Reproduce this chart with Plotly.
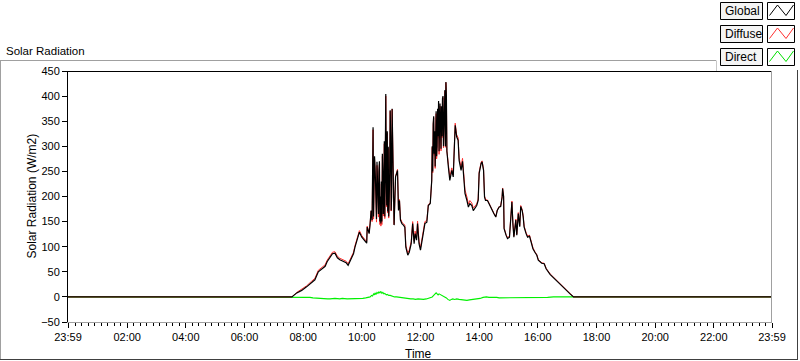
import plotly.graph_objects as go
import pandas as pd

# ---------------- data ----------------
DAY = "2023-06-02"
START = "2023-06-01 23:59"
END = "2023-06-02 23:59"

TIMES = [
    "07:37", "07:47", "07:57", "08:07", "08:17", "08:24", "08:31", "08:38", "08:45", "08:49",
    "08:55", "09:00", "09:05", "09:10", "09:15", "09:22", "09:28", "09:32", "09:37", "09:43",
    "09:46", "09:50", "09:55", "10:00", "10:05", "10:10", "10:11", "10:15", "10:17", "10:19",
    "10:21", "10:23", "10:24", "10:25", "10:26", "10:27", "10:28", "10:29", "10:30", "10:31",
    "10:32", "10:33", "10:34", "10:35", "10:36", "10:37", "10:38", "10:39", "10:40", "10:41",
    "10:42", "10:43", "10:44", "10:45", "10:46", "10:47", "10:48", "10:49", "10:50", "10:51",
    "10:52", "10:53", "10:54", "10:55", "10:56", "10:57", "10:58", "10:59", "11:00", "11:01",
    "11:02", "11:03", "11:04", "11:05", "11:06", "11:09", "11:13", "11:15", "11:17", "11:19",
    "11:22", "11:25", "11:28", "11:30", "11:34", "11:37", "11:41", "11:44", "11:47", "11:49",
    "11:52", "11:54", "11:57", "12:00", "12:04", "12:07", "12:09", "12:13", "12:16", "12:20",
    "12:23", "12:24", "12:25", "12:26", "12:27", "12:28", "12:29", "12:30", "12:31", "12:32",
    "12:33", "12:34", "12:35", "12:36", "12:37", "12:38", "12:39", "12:40", "12:41", "12:42",
    "12:43", "12:44", "12:45", "12:46", "12:47", "12:48", "12:49", "12:50", "12:51", "12:52",
    "12:53", "12:54", "12:55", "12:57", "13:00", "13:04", "13:07", "13:11", "13:14", "13:17",
    "13:19", "13:23", "13:26", "13:29", "13:31", "13:35", "13:38", "13:41", "13:45", "13:48",
    "13:52", "13:55", "13:58", "14:00", "14:04", "14:06", "14:09", "14:11", "14:13", "14:17",
    "14:20", "14:23", "14:27", "14:30", "14:34", "14:37", "14:41", "14:44", "14:47", "14:48",
    "14:50", "14:51", "14:55", "14:58", "15:02", "15:05", "15:07", "15:09", "15:11", "15:15",
    "15:17", "15:20", "15:23", "15:25", "15:28", "15:30", "15:32", "15:36", "15:39", "15:43",
    "15:46", "15:50", "15:54", "15:58", "16:01", "16:08", "16:13", "16:17", "16:25", "16:35",
    "16:45", "16:56", "17:06", "17:13",
]

GLOBAL = [
    0, 8, 13, 20, 28, 34, 50, 56, 61, 70,
    79, 86, 87, 78, 74, 70, 68, 63, 73, 86,
    99, 113, 129, 119, 113, 107, 139, 126, 146, 172,
    153, 338, 160, 200, 280, 260, 230, 160, 155, 269,
    240, 175, 165, 250, 270, 150, 200, 146, 230, 150,
    285, 250, 165, 200, 310, 160, 280, 404, 230, 182,
    330, 170, 299, 160, 190, 250, 372, 320, 172, 200,
    375, 300, 250, 180, 143, 239, 252, 172, 192, 153,
    146, 143, 139, 99, 83, 89, 106, 146, 106, 126,
    113, 146, 106, 93, 119, 133, 146, 149, 182, 186,
    232, 300, 250, 345, 360, 285, 330, 260, 338, 370,
    280, 300, 375, 320, 390, 290, 340, 385, 310, 295,
    380, 320, 395, 400, 300, 350, 390, 412, 300, 428,
    400, 290, 272, 259, 232, 252, 239, 342, 319, 312,
    272, 252, 270, 240, 206, 192, 179, 186, 182, 172,
    179, 182, 192, 246, 266, 269, 252, 199, 192, 192,
    186, 180, 169, 166, 159, 172, 179, 180, 199, 216,
    200, 136, 123, 116, 119, 166, 189, 146, 119, 153,
    123, 166, 140, 180, 172, 160, 139, 126, 119, 121,
    109, 96, 89, 83, 73, 67, 66, 56, 45, 35,
    26, 16, 6, 0,
]

DIFFUSE = [
    0, 9, 15, 22, 31, 37, 53, 59, 64, 73,
    82, 89, 90, 81, 77, 73, 71, 66, 76, 89,
    102, 116, 132, 122, 116, 110, 141, 128, 147, 171,
    150, 333, 155, 194, 274, 253, 224, 152, 149, 262,
    234, 168, 159, 243, 264, 144, 194, 141, 225, 144,
    280, 245, 161, 196, 305, 156, 276, 400, 226, 179,
    327, 167, 296, 157, 188, 248, 370, 318, 171, 199,
    374, 299, 250, 180, 144, 240, 254, 174, 194, 156,
    149, 146, 143, 103, 87, 93, 110, 150, 111, 131,
    118, 151, 111, 98, 124, 138, 150, 152, 184, 187,
    232, 298, 247, 343, 357, 282, 327, 256, 334, 365,
    275, 296, 369, 316, 385, 284, 335, 380, 306, 291,
    376, 317, 392, 397, 297, 347, 388, 410, 298, 427,
    400, 291, 275, 264, 238, 257, 243, 346, 323, 317,
    277, 258, 276, 246, 213, 199, 185, 192, 187, 177,
    183, 185, 195, 249, 268, 271, 254, 201, 194, 193,
    187, 181, 170, 167, 160, 173, 180, 181, 200, 217,
    201, 138, 124, 118, 121, 168, 191, 148, 121, 155,
    125, 168, 142, 182, 174, 162, 141, 128, 121, 123,
    111, 98, 90, 84, 74, 68, 67, 57, 46, 36,
    27, 17, 7, 0,
]

DIRECT_TIMES = [
    "07:37", "08:00", "08:14", "08:20", "08:30", "08:40", "08:50", "08:55", "09:05", "09:15",
    "09:20", "09:30", "09:40", "09:50", "10:02", "10:08", "10:12", "10:17", "10:20", "10:22",
    "10:24", "10:26", "10:27", "10:29", "10:31", "10:33", "10:35", "10:37", "10:39", "10:41",
    "10:43", "10:45", "10:47", "10:50", "10:52", "10:55", "10:58", "11:03", "11:07", "11:11",
    "11:17", "11:24", "11:30", "11:35", "11:40", "11:45", "11:50", "11:55", "12:00", "12:06",
    "12:12", "12:15", "12:20", "12:24", "12:27", "12:30", "12:32", "12:34", "12:36", "12:38",
    "12:40", "12:43", "12:46", "12:50", "12:53", "12:56", "13:00", "13:03", "13:06", "13:10",
    "13:14", "13:19", "13:24", "13:30", "13:35", "13:40", "13:48", "13:55", "14:02", "14:08",
    "14:15", "14:20", "14:25", "14:30", "14:36", "14:41", "14:46", "14:51", "14:56", "15:01",
    "15:07", "15:12", "15:17", "15:22", "15:27", "15:32", "15:37", "15:44", "15:50", "16:00",
    "16:10", "16:20", "16:32", "17:13",
]
DIRECT = [
    0, 0, -1, -2, -3, -3, -4, -4, -3, -4,
    -3, -4, -4, -3, -3, -2, -1, 0, 3, 2,
    6, 4, 8, 5, 9, 7, 10, 8, 11, 7,
    9, 6, 7, 4, 5, 3, 3, 1, 0, 0,
    -1, -2, -3, -3, -4, -4, -5, -4, -5, -5,
    -4, -3, -1, 0, 3, 5, 8, 6, 4, 6,
    5, 3, 3, 1, -2, -5, -7, -5, -4, -5,
    -4, -5, -6, -7, -7, -6, -5, -4, -3, -1,
    0, -1, -1, 0, -1, -2, -2, -1, -1, -2,
    -2, -1, -1, -2, -2, -1, -2, -1, -1, -1,
    -1, -1, 0, 0,
]

TICK_LABELS = ["23:59", "02:00", "04:00", "06:00", "08:00", "10:00", "12:00",
               "14:00", "16:00", "18:00", "20:00", "22:00", "23:59"]

assert len(TIMES) == len(GLOBAL) == len(DIFFUSE)
assert len(DIRECT_TIMES) == len(DIRECT)

# ---------------- helpers ----------------
def stamps(times):
    return [f"{DAY} {t}" for t in times]

gx = [START] + stamps(TIMES) + [END]
dx = [START] + stamps(DIRECT_TIMES) + [END]

tickvals = [START] + [f"{DAY} {t}" for t in TICK_LABELS[1:-1]] + [END]
minor_vals = [t.strftime("%Y-%m-%d %H:%M:%S")
              for t in pd.date_range(f"{DAY} 00:00", f"{DAY} 23:59", freq="800s")]

W, H = 800, 361
PL, PR, PT, PB = 68, 772, 71, 322

def px(x):
    return (x - PL) / (PR - PL)

def py(y):
    return (PB - y) / (PB - PT)

FONT = "Liberation Sans, Arial, sans-serif"

fig = go.Figure()
fig.add_trace(go.Scatter(x=dx, y=[0] + DIRECT + [0], mode="lines", name="Direct",
                         line=dict(color="#00f000", width=1.1), hoverinfo="skip"))
fig.add_trace(go.Scatter(x=gx, y=[0] + DIFFUSE + [0], mode="lines", name="Diffuse",
                         line=dict(color="#ff3030", width=1), hoverinfo="skip"))
fig.add_trace(go.Scatter(x=gx, y=[0] + GLOBAL + [0], mode="lines", name="Global",
                         line=dict(color="#000000", width=1.2), hoverinfo="skip"))

shapes = []

def line(x0, y0, x1, y1, color, width=1):
    shapes.append(dict(type="line", xref="paper", yref="paper",
                       x0=px(x0), y0=py(y0), x1=px(x1), y1=py(y1),
                       line=dict(color=color, width=width), layer="above"))

# outer panel border
line(0, 60.5, 716, 60.5, "#a0a0a0")
line(0.5, 60.5, 0.5, 359.5, "#a0a0a0")
line(0, 359.5, 798, 359.5, "#404040")
line(797.5, 70, 797.5, 359.5, "#404040")
line(716.5, 60.5, 716.5, 72, "#c8c8c8")
# plot frame
line(PL, PT + 0.5, PR, PT + 0.5, "#000000")
line(PR - 0.5, PT, PR - 0.5, PB, "#a0a0a0")

annotations = []
legend_rows = [("Global", "#000000", 2.5), ("Diffuse", "#ff3030", 25.5), ("Direct", "#00e000", 48.5)]
for name, color, top in legend_rows:
    shapes.append(dict(type="rect", xref="paper", yref="paper",
                       x0=px(720.5), x1=px(762.5), y0=py(top), y1=py(top + 17),
                       fillcolor="#f4f4f4", line=dict(color="#000000", width=1)))
    shapes.append(dict(type="rect", xref="paper", yref="paper",
                       x0=px(767.5), x1=px(794.5), y0=py(top), y1=py(top + 17),
                       fillcolor="#ffffff", line=dict(color="#000000", width=1)))
    pts = [(769.5, top + 13), (777.5, top + 2.5), (786, top + 13), (793.5, top + 2.5)]
    path = "M " + " L ".join(f"{px(a)},{py(b)}" for a, b in pts)
    shapes.append(dict(type="path", xref="paper", yref="paper", path=path,
                       line=dict(color=color, width=1)))
    annotations.append(dict(text=name, xref="paper", yref="paper", x=px(722.5),
                            y=py(top + 8.5), xanchor="left", yanchor="middle",
                            showarrow=False, font=dict(family=FONT, size=12, color="#000000")))

annotations.append(dict(text="Solar Radiation", xref="paper", yref="paper", x=px(4),
                        y=py(51), xanchor="left", yanchor="middle", showarrow=False,
                        font=dict(family=FONT, size=11.5, color="#000000")))
annotations.append(dict(text="Time", xref="paper", yref="paper", x=px(418),
                        y=py(353.5), xanchor="center", yanchor="middle", showarrow=False,
                        font=dict(family=FONT, size=12, color="#000000")))
annotations.append(dict(text="Solar Radiation (W/m2)", xref="paper", yref="paper", x=px(31),
                        y=py(196.5), xanchor="center", yanchor="middle", showarrow=False,
                        textangle=-90, font=dict(family=FONT, size=12, color="#000000")))

fig.update_layout(
    width=W, height=H,
    margin=dict(l=PL, r=W - PR, t=PT, b=H - PB, pad=0),
    paper_bgcolor="#ffffff", plot_bgcolor="#ffffff",
    showlegend=False,
    font=dict(family=FONT, size=11, color="#000000"),
    shapes=shapes, annotations=annotations,
    xaxis=dict(
        type="date", range=[START, END],
        tickmode="array", tickvals=tickvals, ticktext=TICK_LABELS,
        ticks="outside", ticklen=5, tickwidth=1, tickcolor="#000000",
        minor=dict(tickmode="array", tickvals=minor_vals, ticks="outside",
                   ticklen=3, tickwidth=1, tickcolor="#000000", showgrid=False),
        showline=True, linecolor="#a0a0a0", linewidth=1,
        showgrid=False, zeroline=False,
        tickfont=dict(family=FONT, size=11, color="#000000"),
    ),
    yaxis=dict(
        range=[-50, 450], tick0=0, dtick=50,
        ticks="outside", ticklen=5, tickwidth=1, tickcolor="#000000",
        showline=True, linecolor="#000000", linewidth=1,
        showgrid=False, zeroline=False,
        tickfont=dict(family=FONT, size=11, color="#000000"),
    ),
)

fig.write_html(
    "out.html",
    config={"displayModeBar": False, "staticPlot": True},
    post_script="document.body.style.margin='0';document.body.style.overflow='hidden';",
)
